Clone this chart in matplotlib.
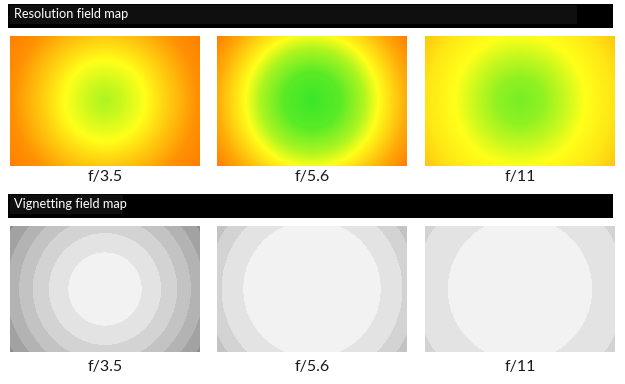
import numpy as np
import matplotlib
matplotlib.use("Agg")
import matplotlib.pyplot as plt
from matplotlib.colors import LinearSegmentedColormap, ListedColormap
from matplotlib.patches import Rectangle

# apertures shown in both rows
apertures = ["f/3.5", "f/5.6", "f/11"]

# resolution score along the radius (0 = centre, 1 = corner); 0 green, .5 yellow, 1 orange
res_radius = [
    [0.0, 0.15, 0.35, 0.55, 0.80, 1.0],
    [0.0, 0.25, 0.45, 0.58, 0.70, 0.82, 1.0],
    [0.0, 0.20, 0.40, 0.57, 0.82, 1.0],
]
res_score = [
    [0.30, 0.37, 0.50, 0.70, 0.93, 1.0],
    [0.02, 0.10, 0.30, 0.50, 0.66, 0.82, 1.0],
    [0.17, 0.23, 0.37, 0.50, 0.60, 0.72],
]

# vignetting: radius where each extra step of light falloff starts
vig_steps = [
    [0.32, 0.49, 0.63, 0.75, 0.86, 0.97],
    [0.60, 0.79, 0.92, 1.02],
    [0.63, 0.92],
]
vig_grays = ["#f2f2f2", "#e3e3e3", "#d3d3d3", "#c3c3c3", "#b3b3b3", "#a2a2a2", "#8f8f8f"]

W, H = 625, 384
fig = plt.figure(figsize=(W / 100, H / 100), dpi=100)
fig.patch.set_facecolor("white")

res_cmap = LinearSegmentedColormap.from_list(
    "res", [(0.0, "#33e62a"), (0.5, "#ffff1a"), (1.0, "#ff8000")])

def px_axes(x, y, w, h):
    return fig.add_axes([x / W, 1 - (y + h) / H, w / W, h / H])

def header(y, text, inner_w):
    ax = px_axes(0, y - 2, W, 28)
    ax.set_xlim(0, W)
    ax.set_ylim(28, 0)
    ax.axis("off")
    ax.add_patch(Rectangle((8, 2), 605, 24, color="black", lw=0))
    ax.add_patch(Rectangle((10, 3), inner_w, 19, color="#0f0f0f", lw=0))
    ax.text(14, 12.5, text, color="white", fontsize=9.2, family="Lato",
            va="center", ha="left")

def radial_grid(w, h):
    x = np.linspace(-w / 2, w / 2, w)
    y = np.linspace(-h / 2, h / 2, h)
    xx, yy = np.meshgrid(x, y)
    return np.hypot(xx, yy) / np.hypot(95, 65)

panel_x = [10, 217, 425]
pw = 190

header(4, "Resolution field map", 567)
for i, ap in enumerate(apertures):
    ph = 130
    ax = px_axes(panel_x[i], 36, pw, ph)
    r = radial_grid(pw, ph)
    field = np.interp(r, res_radius[i], res_score[i])
    ax.imshow(field, cmap=res_cmap, vmin=0, vmax=1, aspect="auto",
              interpolation="bilinear")
    ax.axis("off")
    fig.text((panel_x[i] + pw / 2) / W, 1 - 177 / H, ap, ha="center",
             va="center", fontsize=11.5, family="Lato", color="#1a1a1a")

header(194, "Vignetting field map", 113)
for i, ap in enumerate(apertures):
    ph = 126
    ax = px_axes(panel_x[i], 226, pw, ph)
    r = radial_grid(pw, ph)
    level = np.digitize(r, vig_steps[i])
    cmap = ListedColormap(vig_grays)
    ax.imshow(level, cmap=cmap, vmin=-0.5, vmax=len(vig_grays) - 0.5,
              aspect="auto", interpolation="nearest")
    ax.axis("off")
    fig.text((panel_x[i] + pw / 2) / W, 1 - 367 / H, ap, ha="center",
             va="center", fontsize=11.5, family="Lato", color="#1a1a1a")

fig.savefig("out.png", dpi=100)
